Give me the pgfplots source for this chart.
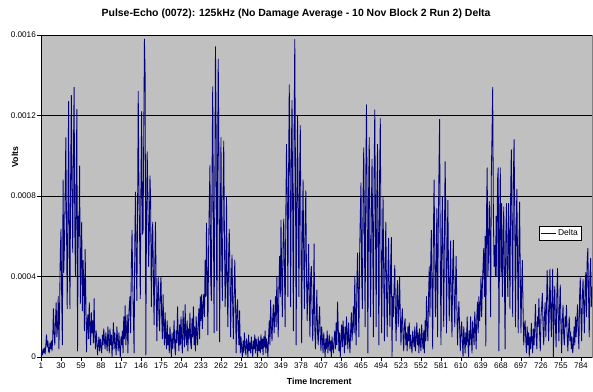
\documentclass[border=0pt]{standalone}
\usepackage{fontspec}
\setmainfont{Liberation Sans}
\usepackage{pgfplots}
\pgfplotsset{compat=1.18}
\definecolor{plotgray}{RGB}{192,192,192}
\definecolor{navyline}{RGB}{0,0,128}

\begin{document}
\begin{tikzpicture}
\useasboundingbox (0,0) rectangle (593bp,392bp);
\begin{axis}[%
at={(41bp,35bp)},
anchor=south west,
width=551bp,
height=322bp,
scale only axis,
xmin=1,
xmax=800,
ymin=0,
ymax=1600,
axis background/.style={fill=plotgray, draw=gray},
axis lines=left,
axis line style={-, black, line width=0.6pt},
tick align=outside,
major tick length=3.5bp,
tick style={black, line width=0.6pt},
xtick={1,30,...,784},
ytick={0,400,800,1200,1600},
yticklabels={0,0.0004,0.0008,0.0012,0.0016},
ymajorgrids,
major grid style={black, line width=0.6pt},
/pgf/number format/assume math mode=true,
ticklabel style={font=\fontsize{8.2}{9}\selectfont},
yticklabel style={inner sep=1.5bp},
xticklabel style={inner sep=2bp},
every axis title shift=0pt,
title={Pulse-Echo (0072): 125kHz (No Damage Average - 10 Nov Block 2 Run 2) Delta},
title style={at={(axis description cs:0.463,1.065)}, anchor=center, font=\fontsize{10.5}{12}\selectfont\bfseries},
xlabel={Time Increment},
xlabel style={at={(axis description cs:0.505,-0.0745)}, anchor=center, font=\fontsize{8.8}{10}\selectfont\bfseries},
ylabel={Volts},
ylabel style={at={(axis description cs:-0.047,0.621)}, anchor=center, font=\fontsize{8.8}{10}\selectfont\bfseries},
legend style={at={(axis description cs:0.942,0.385)}, anchor=center, draw=black, fill=white, font=\fontsize{8.5}{9}\selectfont, inner sep=1bp, line width=0.6pt},
legend image code/.code={\draw[#1] (0bp,0bp) -- (15bp,0bp);},
]
% values in microvolts, one per time increment
\addplot [color=navyline, line width=0.85pt, line join=round]
  table[header=false, row sep=\\, x expr=\coordindex+1, y index=0]{
0\\ 30\\ 10\\ 40\\ 20\\ 45\\ 15\\ 60\\ 110\\ 50\\ 80\\ 30\\ 20\\ 70\\ 40\\ 80\\ 30\\ 90\\ 240\\ 120\\
60\\ 180\\ 270\\ 100\\ 150\\ 300\\ 40\\ 250\\ 520\\ 635\\ 300\\ 60\\ 880\\ 420\\ 550\\ 800\\ 1090\\ 650\\ 240\\ 700\\
1270\\ 560\\ 240\\ 900\\ 1300\\ 800\\ 520\\ 1000\\ 1340\\ 640\\ 400\\ 860\\ 1230\\ 30\\ 700\\ 600\\ 950\\ 265\\ 500\\ 670\\
230\\ 480\\ 360\\ 130\\ 535\\ 300\\ 25\\ 160\\ 210\\ 90\\ 270\\ 150\\ 60\\ 220\\ 120\\ 180\\ 70\\ 290\\ 110\\ 40\\
130\\ 80\\ 10\\ 60\\ 100\\ 30\\ 90\\ 50\\ 20\\ 110\\ 60\\ 140\\ 80\\ 40\\ 120\\ 70\\ 30\\ 150\\ 90\\ 20\\
140\\ 60\\ 110\\ 0\\ 80\\ 170\\ 40\\ 120\\ 60\\ 10\\ 150\\ 90\\ 30\\ 120\\ 50\\ 0\\ 100\\ 60\\ 130\\ 20\\
200\\ 90\\ 255\\ 60\\ 140\\ 210\\ 20\\ 180\\ 250\\ 300\\ 120\\ 450\\ 630\\ 380\\ 200\\ 20\\ 560\\ 820\\ 500\\ 280\\
700\\ 1320\\ 850\\ 600\\ 290\\ 900\\ 1220\\ 610\\ 620\\ 1100\\ 1580\\ 1400\\ 10\\ 700\\ 1020\\ 800\\ 450\\ 600\\ 900\\ 780\\
250\\ 530\\ 670\\ 400\\ 160\\ 450\\ 670\\ 350\\ 80\\ 300\\ 400\\ 210\\ 130\\ 330\\ 400\\ 200\\ 90\\ 310\\ 150\\ 60\\
220\\ 100\\ 40\\ 180\\ 60\\ 110\\ 20\\ 150\\ 80\\ 0\\ 120\\ 40\\ 90\\ 180\\ 50\\ 10\\ 130\\ 70\\ 250\\ 100\\
30\\ 160\\ 60\\ 200\\ 90\\ 20\\ 230\\ 140\\ 50\\ 260\\ 110\\ 60\\ 180\\ 30\\ 140\\ 90\\ 220\\ 70\\ 40\\ 190\\
100\\ 250\\ 60\\ 150\\ 30\\ 200\\ 110\\ 60\\ 180\\ 240\\ 90\\ 300\\ 180\\ 310\\ 140\\ 250\\ 312\\ 200\\ 480\\ 300\\
666\\ 400\\ 110\\ 520\\ 760\\ 952\\ 400\\ 280\\ 900\\ 1343\\ 700\\ 120\\ 800\\ 1542\\ 1100\\ 130\\ 900\\ 1480\\ 1000\\ 75\\
600\\ 1090\\ 500\\ 280\\ 800\\ 1073\\ 600\\ 250\\ 400\\ 798\\ 350\\ 150\\ 500\\ 635\\ 400\\ 100\\ 380\\ 507\\ 250\\ 90\\
300\\ 482\\ 300\\ 20\\ 200\\ 285\\ 150\\ 60\\ 230\\ 20\\ 100\\ 40\\ 0\\ 80\\ 20\\ 120\\ 50\\ 10\\ 90\\ 60\\
0\\ 110\\ 30\\ 70\\ 20\\ 100\\ 50\\ 0\\ 80\\ 40\\ 110\\ 20\\ 90\\ 60\\ 0\\ 100\\ 30\\ 80\\ 20\\ 110\\
40\\ 90\\ 10\\ 100\\ 50\\ 130\\ 20\\ 90\\ 60\\ 0\\ 100\\ 180\\ 60\\ 283\\ 150\\ 80\\ 200\\ 260\\ 120\\ 200\\
300\\ 150\\ 395\\ 250\\ 100\\ 350\\ 500\\ 300\\ 680\\ 400\\ 200\\ 550\\ 686\\ 450\\ 150\\ 700\\ 1057\\ 800\\ 300\\ 900\\
1353\\ 900\\ 250\\ 1000\\ 1275\\ 700\\ 130\\ 1100\\ 1578\\ 900\\ 60\\ 800\\ 1200\\ 700\\ 300\\ 900\\ 1150\\ 600\\ 70\\ 600\\
880\\ 500\\ 240\\ 650\\ 826\\ 400\\ 180\\ 350\\ 560\\ 300\\ 100\\ 400\\ 450\\ 250\\ 80\\ 230\\ 562\\ 150\\ 40\\ 200\\
333\\ 120\\ 60\\ 180\\ 250\\ 100\\ 30\\ 150\\ 90\\ 20\\ 120\\ 60\\ 0\\ 90\\ 40\\ 130\\ 20\\ 70\\ 110\\ 30\\
80\\ 0\\ 100\\ 50\\ 20\\ 90\\ 130\\ 40\\ 170\\ 60\\ 273\\ 150\\ 30\\ 120\\ 0\\ 90\\ 160\\ 50\\ 180\\ 100\\
20\\ 150\\ 60\\ 200\\ 110\\ 40\\ 170\\ 90\\ 20\\ 130\\ 220\\ 80\\ 150\\ 250\\ 120\\ 400\\ 200\\ 60\\ 350\\ 517\\
300\\ 100\\ 500\\ 700\\ 865\\ 400\\ 240\\ 800\\ 1040\\ 600\\ 150\\ 900\\ 1253\\ 700\\ 20\\ 800\\ 1090\\ 500\\ 200\\ 700\\
983\\ 600\\ 100\\ 900\\ 1228\\ 700\\ 150\\ 800\\ 1057\\ 500\\ 60\\ 900\\ 1185\\ 600\\ 120\\ 500\\ 793\\ 400\\ 80\\ 450\\
670\\ 350\\ 100\\ 400\\ 590\\ 300\\ 150\\ 450\\ 595\\ 0\\ 300\\ 200\\ 350\\ 455\\ 200\\ 80\\ 300\\ 380\\ 150\\ 250\\
398\\ 200\\ 60\\ 180\\ 240\\ 100\\ 30\\ 160\\ 190\\ 60\\ 120\\ 30\\ 150\\ 80\\ 170\\ 40\\ 110\\ 60\\ 20\\ 130\\
90\\ 50\\ 150\\ 30\\ 100\\ 170\\ 60\\ 120\\ 20\\ 140\\ 70\\ 30\\ 160\\ 90\\ 40\\ 130\\ 20\\ 180\\ 80\\ 300\\
150\\ 80\\ 300\\ 448\\ 200\\ 450\\ 630\\ 300\\ 40\\ 600\\ 880\\ 500\\ 200\\ 450\\ 737\\ 100\\ 600\\ 900\\ 1180\\ 500\\
60\\ 550\\ 797\\ 450\\ 150\\ 600\\ 970\\ 700\\ 120\\ 500\\ 778\\ 400\\ 180\\ 400\\ 577\\ 250\\ 100\\ 450\\ 580\\ 300\\
150\\ 350\\ 500\\ 250\\ 60\\ 200\\ 275\\ 150\\ 30\\ 120\\ 175\\ 80\\ 0\\ 150\\ 90\\ 20\\ 120\\ 60\\ 200\\ 80\\
0\\ 130\\ 60\\ 200\\ 100\\ 20\\ 180\\ 120\\ 60\\ 225\\ 150\\ 40\\ 200\\ 273\\ 120\\ 300\\ 180\\ 250\\ 398\\ 200\\
350\\ 450\\ 540\\ 300\\ 600\\ 55\\ 700\\ 940\\ 400\\ 500\\ 773\\ 600\\ 200\\ 900\\ 1100\\ 1340\\ 700\\ 450\\ 555\\ 400\\
700\\ 400\\ 880\\ 940\\ 30\\ 600\\ 940\\ 400\\ 763\\ 300\\ 500\\ 746\\ 400\\ 40\\ 600\\ 763\\ 450\\ 300\\ 763\\ 600\\
240\\ 800\\ 1030\\ 600\\ 200\\ 900\\ 1080\\ 700\\ 150\\ 600\\ 833\\ 500\\ 120\\ 550\\ 770\\ 400\\ 120\\ 350\\ 480\\ 250\\
60\\ 150\\ 180\\ 80\\ 20\\ 150\\ 60\\ 120\\ 0\\ 100\\ 40\\ 168\\ 80\\ 20\\ 140\\ 60\\ 150\\ 262\\ 100\\ 40\\
200\\ 150\\ 290\\ 120\\ 30\\ 200\\ 250\\ 317\\ 150\\ 60\\ 200\\ 270\\ 100\\ 250\\ 430\\ 300\\ 80\\ 200\\ 437\\ 250\\
100\\ 300\\ 437\\ 0\\ 250\\ 350\\ 150\\ 50\\ 300\\ 440\\ 200\\ 80\\ 250\\ 358\\ 150\\ 20\\ 180\\ 257\\ 100\\ 60\\
200\\ 150\\ 257\\ 100\\ 30\\ 130\\ 200\\ 80\\ 125\\ 40\\ 100\\ 20\\ 60\\ 150\\ 60\\ 200\\ 100\\ 180\\ 260\\ 120\\
40\\ 300\\ 394\\ 200\\ 80\\ 300\\ 385\\ 250\\ 120\\ 350\\ 420\\ 200\\ 480\\ 540\\ 300\\ 100\\ 400\\ 490\\ 250\\ 350\\
};
\addlegendentry{Delta}
\end{axis}
\end{tikzpicture}
\end{document}
